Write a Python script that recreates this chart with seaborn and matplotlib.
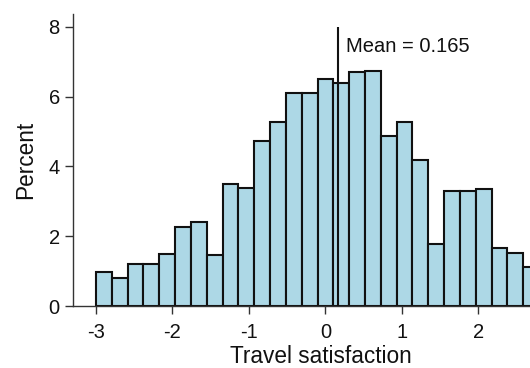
import numpy as np
import pandas as pd
import matplotlib
matplotlib.use("Agg")
import matplotlib.pyplot as plt
import seaborn as sns

# Histogram of travel satisfaction scores (percent of respondents per bin)
bin_start = -3.0
bin_width = 0.207
percents = [0.97, 0.80, 1.21, 1.21, 1.50, 2.27, 2.40, 1.47, 3.49, 3.39,
            4.72, 5.28, 6.11, 6.11, 6.51, 6.39, 6.71, 6.73, 4.87, 5.28,
            4.18, 1.79, 3.31, 3.31, 3.34, 1.65, 1.53, 1.13]
mean_value = 0.165
x_ticks = [-3, -2, -1, 0, 1, 2]
y_ticks = [0, 2, 4, 6, 8]

edges = (bin_start + bin_width * np.arange(len(percents) + 1)).tolist()
centers = [(a + b) / 2 for a, b in zip(edges[:-1], edges[1:])]
df = pd.DataFrame({"score": centers, "percent": percents})

sns.set_style("ticks")
plt.rcParams["font.family"] = ["Liberation Sans", "DejaVu Sans"]

fig = plt.figure(figsize=(5.30, 3.68), dpi=100)
ax = fig.add_axes([73 / 530, 62 / 368, 457 / 530, 292 / 368])

sns.histplot(data=df, x="score", weights="percent", bins=edges, ax=ax,
             color="#ADD8E6", alpha=1.0, edgecolor="#111111", linewidth=1.5)

ax.vlines(mean_value, 0, 8, color="#111111", linewidth=1.5, zorder=5)
ax.text(0.268, 7.29, f"Mean = {mean_value}", ha="left", va="baseline",
        fontsize=14.5, color="#111111")

ax.set_xlim(-3.30, 2.677)
ax.set_ylim(0, 8.37)
ax.set_xticks(x_ticks)
ax.set_yticks(y_ticks)
ax.set_xticklabels([str(t) for t in x_ticks])
ax.set_yticklabels([str(t) for t in y_ticks])

for side in ("top", "right"):
    ax.spines[side].set_visible(False)
for side in ("left", "bottom"):
    ax.spines[side].set_linewidth(1.0)
    ax.spines[side].set_color("#333333")

ax.tick_params(axis="both", length=6, width=1.0, color="#333333",
               labelsize=14.5, labelcolor="#111111")
ax.tick_params(axis="x", pad=6.5)
ax.tick_params(axis="y", pad=3.5)

ax.set_xlabel("Travel satisfaction", fontsize=16.3, color="#111111")
ax.set_ylabel("Percent", fontsize=16.3, color="#111111", labelpad=8)
ax.xaxis.set_label_coords(248 / 457, -57 / 292, transform=ax.transAxes)
ax.xaxis.label.set_va("baseline")

fig.savefig("out.png", dpi=100)
